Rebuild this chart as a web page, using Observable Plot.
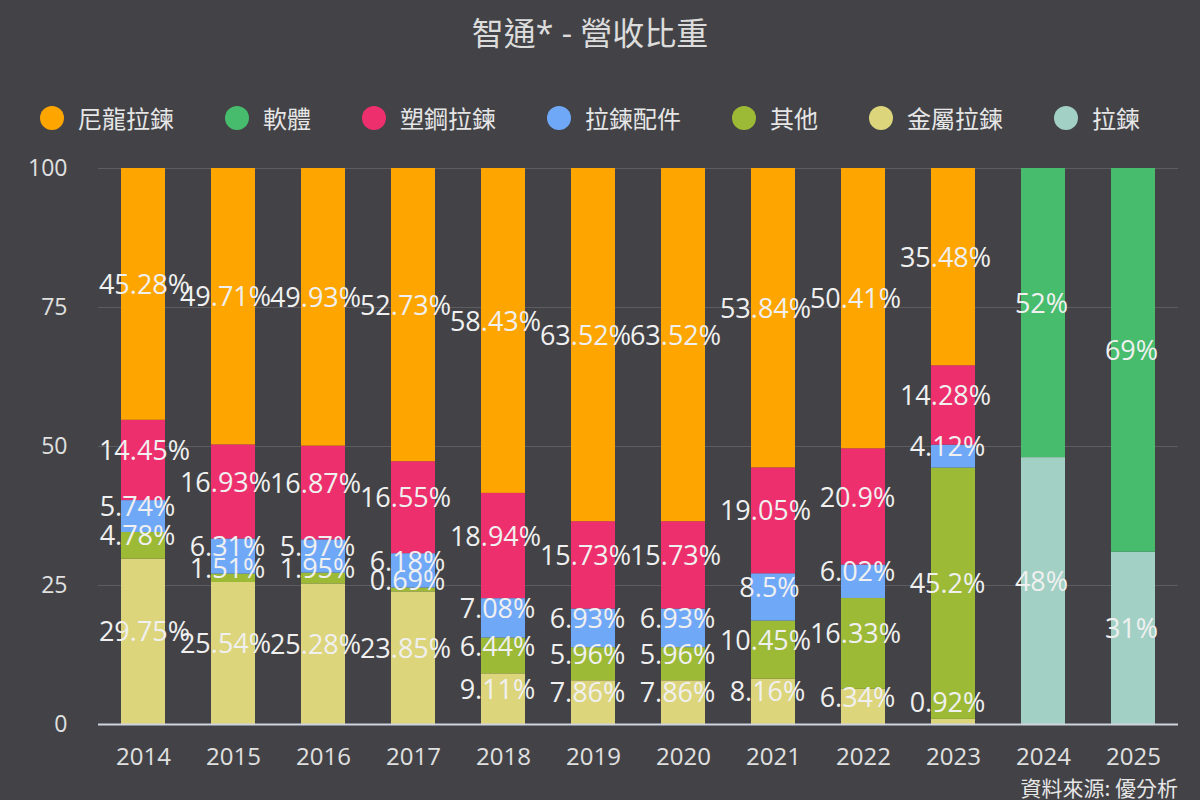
<!DOCTYPE html>
<html>
<head>
<meta charset="utf-8">
<script src="https://cdn.jsdelivr.net/npm/d3@7"></script>
<script src="https://cdn.jsdelivr.net/npm/@observablehq/plot@0.6"></script>
<style>
  html, body { margin: 0; padding: 0; }
  body {
    width: 1200px; height: 800px; position: relative; overflow: hidden;
    background: #434347;
    font-family: "Open Sans", "Noto Sans CJK TC", sans-serif;
    color: #e0e0e0;
  }
  #title {
    position: absolute; left: 0; top: 12px; width: 1180px; text-align: center;
    font-family: "Open Sans", "Noto Sans CJK TC", sans-serif;
    font-size: 32px; line-height: 42px; color: #dcdcdc;
  }
  #legend {
    position: absolute; left: 40px; top: 100px; display: flex; align-items: center;
    font-family: "Noto Sans CJK TC", sans-serif; font-size: 24px; line-height: 36px; color: #e6e6e6;
  }
  .item { display: flex; align-items: center; margin-right: 51px; }
  .item:last-child { margin-right: 0; }
  .dot { width: 24px; height: 24px; border-radius: 50%; margin-right: 14px; }
  #chart { position: absolute; left: 0; top: 140px; }
  #source {
    position: absolute; right: 22px; top: 772px;
    font-family: "Noto Sans CJK TC", sans-serif; font-size: 21px; line-height: 30px; color: #e6e6e6;
  }
</style>
</head>
<body>
<div id="title">智通* - 營收比重</div>
<div id="legend"></div>
<div id="chart"></div>
<div id="source">資料來源: 優分析</div>
<script>
// ---- data ----
const years = ["2014","2015","2016","2017","2018","2019","2020","2021","2022","2023","2024","2025"];
const nylon       = [45.28, 49.71, 49.93, 52.73, 58.43, 63.52, 63.52, 53.84, 50.41, 35.48, null, null]; // 尼龍拉鍊
const software    = [null, null, null, null, null, null, null, null, null, null, 52, 69];               // 軟體
const plastic     = [14.45, 16.93, 16.87, 16.55, 18.94, 15.73, 15.73, 19.05, 20.9, 14.28, null, null]; // 塑鋼拉鍊
const accessories = [5.74, 6.31, 5.97, 6.18, 7.08, 6.93, 6.93, 8.5, 6.02, 4.12, null, null];           // 拉鍊配件
const other       = [4.78, 1.51, 1.95, 0.69, 6.44, 5.96, 5.96, 10.45, 16.33, 45.2, null, null];        // 其他
const metal       = [29.75, 25.54, 25.28, 23.85, 9.11, 7.86, 7.86, 8.16, 6.34, 0.92, null, null];      // 金屬拉鍊
const zipper      = [null, null, null, null, null, null, null, null, null, null, 48, 31];               // 拉鍊
const yTicks = [0, 25, 50, 75, 100];

// legend order
const legendNames = ["尼龍拉鍊", "軟體", "塑鋼拉鍊", "拉鍊配件", "其他", "金屬拉鍊", "拉鍊"];
const colors = {
  "尼龍拉鍊": "#ffa500",
  "軟體": "#46bc6c",
  "塑鋼拉鍊": "#ee2f6e",
  "拉鍊配件": "#70a8f8",
  "其他": "#9cba36",
  "金屬拉鍊": "#dcd57c",
  "拉鍊": "#a2d0c5"
};
// stack order, bottom to top
const stackSeries = [
  ["金屬拉鍊", metal],
  ["其他", other],
  ["拉鍊配件", accessories],
  ["塑鋼拉鍊", plastic],
  ["尼龍拉鍊", nylon],
  ["拉鍊", zipper],
  ["軟體", software]
];
const stackOrder = stackSeries.map(s => s[0]);

const rows = [];
years.forEach((yr, i) => {
  let cum = 0;
  for (const [name, vals] of stackSeries) {
    const v = vals[i];
    if (v == null) continue;
    const mid = cum + v / 2;
    cum += v;
    const label = v + "%";
    // labels drift slightly left with their length; the first column's long labels stay inside the plot
    let shift = -(label.length - 2) * 2;
    if (i === 0 && label.length >= 6) shift = 1;
    rows.push({year: yr, series: name, value: v, labelY: Math.max(mid, 2.2), label, shift});
  }
});

// legend
const legend = document.getElementById("legend");
legendNames.forEach(n => {
  const it = document.createElement("div");
  it.className = "item";
  it.innerHTML = `<span class="dot" style="background:${colors[n]}"></span><span>${n}</span>`;
  legend.appendChild(it);
});

const shifts = Array.from(new Set(rows.map(r => r.shift)));
const labelMarks = shifts.map(s =>
  Plot.text(rows.filter(r => r.shift === s), {x: "year", y: "labelY", text: "label", dx: s, dy: -9, fill: "#f0f0f0", fontSize: 27})
);

const chart = Plot.plot({
  width: 1200,
  height: 640,
  marginTop: 28,
  marginBottom: 56,
  marginLeft: 98,
  marginRight: 22,
  style: {background: "transparent", fontFamily: "'Open Sans', 'Noto Sans CJK TC', sans-serif", color: "#e0e0e0"},
  x: {domain: years, paddingInner: 0.51, paddingOuter: 0.255, label: null},
  y: {domain: [0, 100], label: null},
  color: {domain: stackOrder, range: stackOrder.map(n => colors[n])},
  marks: [
    Plot.ruleY(yTicks.filter(t => t > 0), {stroke: "#5c5c61", strokeWidth: 1}),
    Plot.barY(rows, Plot.stackY({x: "year", y: "value", z: "series", fill: "series", order: stackOrder})),
    Plot.ruleY([0], {stroke: "#d0d4e0", strokeWidth: 2}),
    Plot.axisY({ticks: yTicks, tickSize: 0, tickPadding: 31, fontSize: 23, fill: "#e0e0e0", label: null}),
    Plot.axisX({tickSize: 0, tickPadding: 23, fontSize: 24, fill: "#e0e0e0", label: null}),
    ...labelMarks
  ]
});
document.getElementById("chart").appendChild(chart);
</script>
</body>
</html>
